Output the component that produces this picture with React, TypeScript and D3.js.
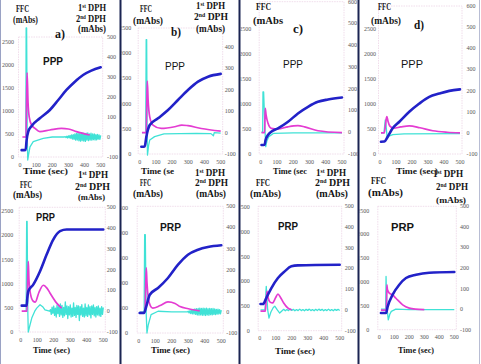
import React from 'react';
import * as d3 from 'd3';

type Pt = [number, number];

// shared ticks
const timeTicks = [0, 100, 200, 300, 400, 500];
const ffcTicks = [0, 500, 1000, 1500, 2000, 2500];
const dphTicks500 = [-100, 0, 100, 200, 300, 400, 500];
const dphTicks400 = [-100, 0, 100, 200, 300, 400];
const dphTicks600 = [-100, 0, 100, 200, 300, 400, 500, 600];

// a) PPP
const ffcA: Pt[] = [[10, 150], [35, 155], [41, 370], [51, 550], [72, 674], [123, 841], [185, 1022], [237, 1239], [288, 1457], [340, 1637], [391, 1783], [442, 1877], [500, 1950]];
const dph1A: Pt[] = [[15, 0], [37, 0], [41, 200], [44, 321], [50, 170], [57, 101], [72, 60], [93, 43], [123, 27], [185, 35], [257, 43], [300, 40], [350, 27], [432, 10]];
const dph2A: Pt[] = [[30, 0], [36, 0], [38, 545], [41, 545], [45, 0], [48, -115], [55, -80], [62, -49], [82, -23], [144, -7], [200, 0], [275, 0]];
const noiseA = [2, -3, 4, -5, 6, -4, 8, -7, 10, -10, 12, -12, 15, -16, 18, -15, 20, -19, 17, -21, 22, -18, 20, -20, 18, -22, 19, -16, 21, -18, 16, -15, 19, -16, 15, -13, 16, -15, 12, -14, 13, -11, 10, -12, 8];

// b) PPP
const ffcB: Pt[] = [[10, 145], [31, 150], [41, 343], [62, 575], [113, 708], [175, 873], [236, 1071], [298, 1270], [360, 1435], [422, 1534], [500, 1590]];
const dph1B: Pt[] = [[14, 0], [40, 0], [44, 150], [47, 240], [52, 150], [62, 73], [82, 35], [133, 19], [216, 27], [260, 35], [298, 32], [380, 19], [500, 7]];
const dph2B: Pt[] = [[14, 0], [37, 0], [40, 433], [43, 433], [46, 0], [48, -105], [55, -60], [62, -35], [92, -19], [150, -6], [250, -5], [350, -4], [440, -5], [455, -15], [460, 0], [500, -3]];

// c) PPP
const ffcC: Pt[] = [[5, 180], [24, 185], [30, 280], [45, 380], [65, 446], [106, 513], [168, 646], [229, 813], [291, 946], [352, 1046], [414, 1093], [500, 1133]];
const dph1C: Pt[] = [[5, -2], [24, -2], [26, 60], [28, 110], [33, 80], [45, 41], [65, 18], [106, 15], [168, 25], [229, 30], [270, 25], [352, 7], [500, -2]];
const dph2C: Pt[] = [[5, 0], [12, 0], [14, 186], [18, 186], [27, 0], [31, -66], [38, -40], [50, -20], [80, -5], [200, -3], [500, -3]];

// d) PPP
const ffcD: Pt[] = [[6, 246], [27, 250], [48, 346], [79, 514], [121, 646], [183, 846], [246, 1012], [308, 1146], [371, 1212], [433, 1266], [500, 1295]];
const dph1D: Pt[] = [[6, 0], [27, 0], [33, 30], [40, 70], [43, 77], [50, 55], [62, 32], [85, 22], [130, 28], [183, 33], [250, 24], [330, 10], [420, 3], [500, 0]];
const dph2D: Pt[] = [[6, 0], [25, 0], [30, 40], [33, 61], [36, 50], [42, 0], [46, -26], [55, -15], [80, -8], [150, -5], [500, -4]];

// e) PRP
const ffcE: Pt[] = [[6, 546], [36, 546], [40, 700], [46, 844], [76, 981], [117, 1259], [157, 1604], [197, 1915], [238, 2089], [278, 2122], [500, 2122]];
const dph1E: Pt[] = [[6, 0], [38, 0], [42, 150], [46, 240], [50, 150], [60, 80], [76, 48], [88, 44], [110, 90], [137, 125], [160, 110], [177, 88], [218, 39], [248, 15]];
const dph2E: Pt[] = [[20, 0], [33, 0], [36, 432], [39, 432], [43, 0], [46, -100], [55, -70], [67, -33], [85, 0], [97, 15], [117, 31], [135, 20], [147, 7], [175, 0]];
const noiseE = [8, -15, 20, -10, 25, -20, 15, -28, 30, -12, 22, -25, 35, -18, 28, -30, 18, -22, 45, -15, 25, -35, 22, -18, 30, -28, 15, -25, 40, -20, 18, -30, 28, -15, 25, -45, 22, -18, 32, -25, 15, -28, 35, -22, 18, -25, 30, -18, 22, -32, 25, -15, 30, -22, 18, -28, 22, -18, 25, -22, 15, -25, 22, -15, 18];

// f) PRP
const ffcF: Pt[] = [[6, 400], [32, 400], [46, 534], [67, 766], [117, 900], [177, 1100], [238, 1366], [298, 1566], [359, 1666], [419, 1720], [500, 1754]];
const dph1F: Pt[] = [[6, -3], [38, -3], [42, 120], [46, 208], [50, 140], [58, 66], [70, 30], [85, 18], [130, 30], [177, 47], [220, 40], [250, 25], [300, 15], [369, 5]];
const dph2F: Pt[] = [[6, 0], [33, 0], [36, 366], [40, 366], [45, 0], [50, -100], [58, -61], [75, -13], [117, 3], [200, 0], [295, 0]];
const noiseF = [3, -5, 6, -8, 10, -9, 12, -10, 14, -12, 15, -14, 16, -15, 18, -14, 17, -16, 18, -15, 16, -17, 18, -14, 15, -16, 17, -13, 15, -14, 16, -12, 14, -13, 12, -11, 13, -10, 11, -9, 8];

// g) PRP
const ffcG: Pt[] = [[5, 540], [21, 540], [41, 662], [73, 864], [114, 1067], [156, 1202], [198, 1304], [239, 1324], [500, 1336]];
const dph1G: Pt[] = [[5, -6], [35, -6], [40, 40], [46, 90], [52, 60], [65, 38], [80, 34], [100, 60], [114, 77], [130, 60], [150, 34], [175, 10], [200, 1]];
const dph2G: Pt[] = [[5, 0], [33, 0], [37, 60], [41, 114], [45, 60], [50, 0], [58, -39], [70, -10], [85, 12], [94, 18], [110, 0], [125, -15], [145, 0]];
const noiseG = [3, -4, 2, -3, 4, -2, 3, -4, 2, -3, 4, -3, 2, -4, 3, -2, 4, -3, 2, -4, 3, -3, 4, -2, 3, -4, 2, -3, 4, -3, 2, -4, 3, -2, 3, -3];

// h) PRP
const ffcH: Pt[] = [[11, 351], [45, 351], [56, 491], [89, 736], [133, 945], [178, 1086], [245, 1156], [333, 1198], [500, 1212]];
const dph1H: Pt[] = [[11, -5], [46, -5], [49, 60], [51, 118], [54, 95], [67, 78], [89, 69], [111, 53], [156, 21], [200, 5], [240, 0], [300, -2]];
const dph2H: Pt[] = [[11, 0], [42, 0], [44, 100], [45, 159], [47, 100], [52, 0], [60, -52], [70, -25], [80, -11], [110, 0], [200, -2], [500, -2]];

const withNoise = (base: Pt[], noise: number[], start: number, step: number): Pt[] =>
  base.concat(noise.map((v, i) => [start + i * step, v] as Pt));

interface PanelDef {
  ffc: Pt[];
  dph1: Pt[];
  dph2: Pt[];
  x0: number;
  x1: number;
  yL: [number, number];
  r: [number, number];
  yR: [number, number];
  rTicks: number[];
  lblL: number;
  lblR: number;
  clip: string;
}

const panels: PanelDef[] = [
  { ffc: ffcA, dph1: dph1A, dph2: withNoise(dph2A, noiseA, 280, 5), x0: 20, x1: 100.7, yL: [157, 42], r: [-100, 500], yR: [157, 37], rTicks: dphTicks500, lblL: 14, lblR: 107, clip: 'c1' },
  { ffc: ffcB, dph1: dph1B, dph2: dph2B, x0: 139.7, x1: 220.7, yL: [154, 28], r: [-100, 400], yR: [154, 46.7], rTicks: dphTicks400, lblL: 131.3, lblR: 224.7, clip: 'c2' },
  { ffc: ffcC, dph1: dph1C, dph2: dph2C, x0: 260.7, x1: 342, yL: [154, 29.3], r: [-100, 600], yR: [154, 1.7], rTicks: dphTicks600, lblL: 251.3, lblR: 348, clip: 'c3' },
  { ffc: ffcD, dph1: dph1D, dph2: dph2D, x0: 380, x1: 460, yL: [154, 29.3], r: [-100, 600], yR: [154, 6], rTicks: dphTicks600, lblL: 376, lblR: 466.5, clip: 'c4' },
  { ffc: ffcE, dph1: dph1E, dph2: withNoise(dph2E, noiseE, 180, 5), x0: 20.7, x1: 103.3, yL: [332, 211.3], r: [-100, 500], yR: [332, 207.3], rTicks: dphTicks500, lblL: 13.3, lblR: 106.7, clip: 'c1' },
  { ffc: ffcF, dph1: dph1F, dph2: withNoise(dph2F, noiseF, 300, 5), x0: 138.7, x1: 221.3, yL: [333, 208], r: [-100, 500], yR: [333, 206.3], rTicks: dphTicks500, lblL: 128, lblR: 226.3, clip: 'c2' },
  { ffc: ffcG, dph1: dph1G, dph2: withNoise(dph2G, noiseG, 150, 10), x0: 259.7, x1: 339.7, yL: [330.7, 207.3], r: [-100, 500], yR: [330.7, 206.3], rTicks: dphTicks500, lblL: 249.7, lblR: 344.7, clip: 'c3' },
  { ffc: ffcH, dph1: dph1H, dph2: dph2H, x0: 379.3, x1: 454.3, yL: [329.7, 210.7], r: [-100, 500], yR: [329.7, 206.3], rTicks: dphTicks500, lblL: 369.3, lblR: 460, clip: 'c4' },
];

// text: [content, x, baseline, width, size, kind]
type Lbl = [string, number, number, number, number, string];
const labels: Lbl[] = [
  ['FFC', 16, 12, 13, 9.5, 't'], ['(mAbs)', 13, 23, 25, 9.5, 't'],
  ['1|st| DPH', 78, 11, 28, 9.5, 't'], ['2|nd| DPH', 76, 21.5, 30, 9.5, 't'], ['(mAbs)', 78, 32, 28, 9.5, 't'],
  ['a)', 55, 38, 10, 13, 't'], ['PPP', 43, 65, 20, 10, 'sb'], ['Time (sec)', 23, 174, 45, 8.5, 't'],

  ['FFC', 140, 12, 12, 9.5, 't'], ['(mAbs)', 133, 24, 30, 9.5, 't'],
  ['1|st| DPH', 196, 9, 29, 9.5, 't'], ['2|nd| DPH', 194, 20, 34, 9.5, 't'], ['(mAbs)', 196, 32, 29, 9.5, 't'],
  ['b)', 171, 36, 10, 13, 't'], ['PPP', 165, 70, 20, 11.5, 's'], ['Time (se', 141, 174, 33, 8.5, 't'],

  ['FFC', 256, 10, 15, 9.5, 't'], ['(mAbs', 253, 24, 30, 9.5, 't'],
  ['c)', 293, 33, 10, 13, 't'], ['PPP', 283, 68, 20, 11.5, 's'], ['Time (sec', 273, 174, 34, 8.5, 't'],

  ['FFC', 378, 10, 13, 9.5, 't'], ['(mAbs)', 371, 24, 30, 9.5, 't'],
  ['d)', 414, 29, 10, 13, 't'], ['PPP', 401, 68, 22, 11.5, 's'], ['Time (sec)', 396, 174, 42, 8.5, 't'],

  ['1|st| DPH', 78, 178, 30, 9.5, 't'], ['FFC', 20, 188, 12, 9.5, 't'], ['(mAbs)', 13, 198, 29, 9.5, 't'],
  ['2|nd| DPH', 75, 189.5, 35, 9.5, 't'], ['(mAbs)', 78, 199.5, 27, 8.5, 't'],
  ['PRP', 36, 221, 19, 10, 'sb'], ['Time (sec)', 33, 353, 37, 8.5, 't'],

  ['1|st| DPH', 195, 176, 30, 9.5, 't'], ['FFC', 140, 186, 11, 9.5, 't'], ['(mAbs)', 133, 197, 30, 9.5, 't'],
  ['2|nd| DPH', 195, 186, 33, 9.5, 't'], ['(mAbs)', 196, 197, 30, 9.5, 't'],
  ['PRP', 160, 231, 21, 10.5, 'sb'], ['Time (sec)', 151, 353, 39, 8.5, 't'],

  ['1|st| DPH', 316, 176, 30, 9.5, 't'], ['FFC', 256, 186, 14, 9.5, 't'], ['(mAbs)', 250, 197, 31, 9.5, 't'],
  ['2|nd| DPH', 315, 186, 35, 9.5, 't'], ['(mAbs)', 316, 197, 32, 9.5, 't'],
  ['PRP', 278, 230, 20, 10.5, 'sb'], ['Time (sec)', 275, 354, 40, 8.5, 't'],

  ['1|st| DPH', 433, 177, 30, 9.5, 't'], ['FFC', 371, 184, 15, 9.5, 't'], ['(mAbs)', 368, 196, 35, 9.5, 't'],
  ['2|nd| DPH', 436, 190, 32, 9.5, 't'], ['(mAbs)', 436, 202.5, 30, 9, 't'],
  ['PRP', 391, 231, 23, 10.5, 'sb'], ['Time (sec)', 398, 353, 36, 8.5, 't'],
];

const BLUE = '#2222c8';
const MAGENTA = '#e43cd2';
const CYAN = '#40e2d6';

const columnClips: [string, number, number][] = [['c1', 1, 119.5], ['c2', 121.5, 238.5], ['c3', 240.5, 357.5], ['c4', 359.5, 479]];

function Panel({ p }: { p: PanelDef }) {
  const x = d3.scaleLinear().domain([0, 500]).range([p.x0, p.x1]);
  const yL = d3.scaleLinear().domain([0, 2500]).range(p.yL);
  const yR = d3.scaleLinear().domain(p.r).range(p.yR);
  const ffcLine = d3.line<Pt>().x(d => x(d[0])).y(d => yL(d[1])).curve(d3.curveMonotoneX);
  const dphSmooth = d3.line<Pt>().x(d => x(d[0])).y(d => yR(d[1])).curve(d3.curveMonotoneX);
  const dphSharp = d3.line<Pt>().x(d => x(d[0])).y(d => yR(d[1]));
  const top = Math.min(yL(2500), yR(p.r[1]));
  return (
    <g clipPath={`url(#${p.clip})`}>
      <rect x={p.x0 - 1.5} y={top} width={p.x1 - p.x0 + 3.5} height={yL(0) - top}
        fill="none" stroke="#ecd4e6" strokeWidth={0.8} strokeDasharray="1.5,1" />
      {ffcTicks.map(t => (
        <text key={'l' + t} x={p.lblL} y={yL(t)} dy="0.33em" textAnchor="end" fontSize={6} fill="#555">{t}</text>
      ))}
      {p.rTicks.map(t => (
        <text key={'r' + t} x={p.lblR} y={yR(t)} dy="0.33em" textAnchor="start" fontSize={6} fill="#555">{t}</text>
      ))}
      {timeTicks.map(t => (
        <text key={'x' + t} x={x(t)} y={yL(0) + 9.5} textAnchor="middle" fontSize={6} fill="#555">{t}</text>
      ))}
      <path d={dphSharp(p.dph2) || ''} fill="none" stroke={CYAN} strokeWidth={1.3} strokeLinejoin="round" />
      <path d={dphSmooth(p.dph1) || ''} fill="none" stroke={MAGENTA} strokeWidth={1.7} strokeLinejoin="round" />
      <path d={ffcLine(p.ffc) || ''} fill="none" stroke={BLUE} strokeWidth={2.6} strokeLinejoin="round" strokeLinecap="round" />
    </g>
  );
}

function Label({ l }: { l: Lbl }) {
  const [txt, x, y, w, fs, kind] = l;
  const sans = kind === 's' || kind === 'sb';
  const family = sans ? "'Liberation Sans', Arial, sans-serif" : "'Liberation Serif', 'Times New Roman', serif";
  const weight = kind === 's' ? 'normal' : 'bold';
  const parts = txt.split('|');
  return (
    <text x={x} y={y} fontSize={fs} fontFamily={family} fontWeight={weight} fill="#151515"
      textLength={w} lengthAdjust="spacingAndGlyphs">
      {parts.length === 3 ? (
        <>
          <tspan>{parts[0]}</tspan>
          <tspan dy={-3} fontSize={fs * 0.6}>{parts[1]}</tspan>
          <tspan dy={3}>{parts[2]}</tspan>
        </>
      ) : txt}
    </text>
  );
}

export default function App() {
  return (
    <svg width={481} height={364} style={{ position: 'absolute', left: 0, top: 0, background: '#fff' }}
      fontFamily="'Liberation Serif', 'Times New Roman', serif">
      <defs>
        {columnClips.map(([id, a, b]) => (
          <clipPath key={id} id={id}><rect x={a} y={0} width={b - a} height={364} /></clipPath>
        ))}
      </defs>
      <rect x={0} y={0} width={481} height={364} fill="#fff" />
      {panels.map((p, i) => <Panel key={i} p={p} />)}
      {labels.map((l, i) => <Label key={i} l={l} />)}
      <line x1={0.5} y1={0} x2={0.5} y2={364} stroke="#9aa2c4" strokeWidth={1} />
      <line x1={479.5} y1={0} x2={479.5} y2={364} stroke="#b8bdd4" strokeWidth={1} />
      {[120.5, 239.5, 358.5].map(xv => (
        <line key={xv} x1={xv} y1={0} x2={xv} y2={364} stroke="#1b2452" strokeWidth={2} />
      ))}
    </svg>
  );
}
